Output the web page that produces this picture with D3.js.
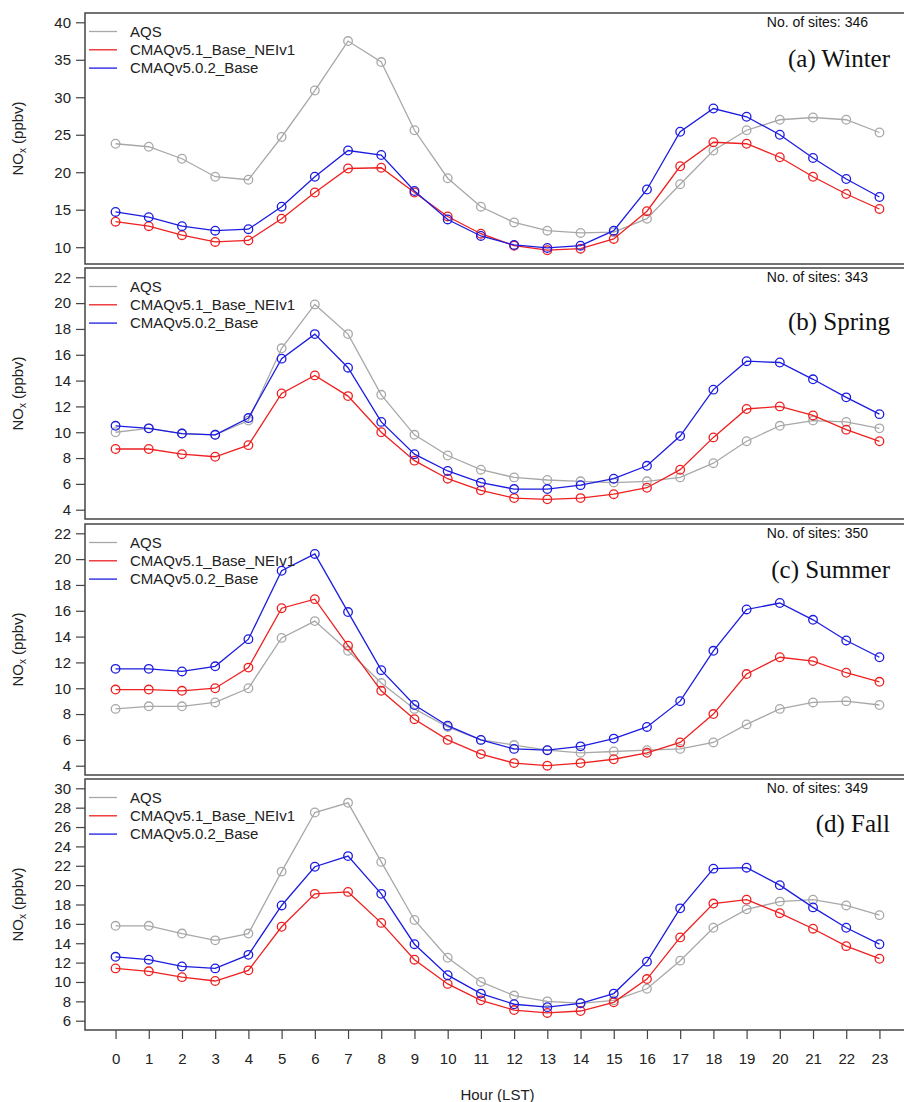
<!DOCTYPE html>
<html>
<head>
<meta charset="utf-8">
<script src="https://cdn.jsdelivr.net/npm/d3@7"></script>
<style>
  body { margin: 0; background: #fff; }
  text { font-family: "Liberation Sans", Arial, sans-serif; }
  text.title { font-family: "Liberation Serif", "Times New Roman", serif; }
</style>
</head>
<body>
<div id="vis-holder"></div>
<script>
// Hours of the day (x categories)
const hours = [0, 1, 2, 3, 4, 5, 6, 7, 8, 9, 10, 11, 12, 13, 14, 15, 16, 17, 18, 19, 20, 21, 22, 23];

// Series names for the legend
const seriesNames = ["AQS", "CMAQv5.1_Base_NEIv1", "CMAQv5.0.2_Base"];

// Winter
const winterAQS  = [23.8, 23.4, 21.8, 19.4, 19.0, 24.7, 30.9, 37.5, 34.7, 25.6, 19.2, 15.4, 13.3, 12.2, 11.9, 12.0, 13.8, 18.4, 22.9, 25.6, 27.0, 27.3, 27.0, 25.3];
const winterV51  = [13.4, 12.8, 11.6, 10.7, 10.9, 13.8, 17.3, 20.5, 20.6, 17.3, 14.1, 11.8, 10.2, 9.6, 9.8, 11.1, 14.8, 20.8, 24.0, 23.8, 22.0, 19.4, 17.1, 15.1];
const winterV502 = [14.7, 14.0, 12.8, 12.2, 12.4, 15.4, 19.4, 22.9, 22.3, 17.5, 13.7, 11.5, 10.3, 9.9, 10.2, 12.2, 17.7, 25.4, 28.5, 27.4, 25.0, 21.9, 19.1, 16.7];

// Spring
const springAQS  = [10.0, 10.3, 9.9, 9.8, 10.9, 16.5, 19.9, 17.6, 12.9, 9.8, 8.2, 7.1, 6.5, 6.3, 6.2, 6.1, 6.2, 6.5, 7.6, 9.3, 10.5, 10.9, 10.8, 10.3];
const springV51  = [8.7, 8.7, 8.3, 8.1, 9.0, 13.0, 14.4, 12.8, 10.0, 7.8, 6.4, 5.5, 4.9, 4.8, 4.9, 5.2, 5.7, 7.1, 9.6, 11.8, 12.0, 11.3, 10.2, 9.3];
const springV502 = [10.5, 10.3, 9.9, 9.8, 11.1, 15.7, 17.6, 15.0, 10.8, 8.3, 7.0, 6.1, 5.6, 5.6, 5.9, 6.4, 7.4, 9.7, 13.3, 15.5, 15.4, 14.1, 12.7, 11.4];

// Summer
const summerAQS  = [8.4, 8.6, 8.6, 8.9, 10.0, 13.9, 15.2, 12.9, 10.4, 8.4, 7.0, 6.0, 5.6, 5.2, 5.0, 5.1, 5.2, 5.3, 5.8, 7.2, 8.4, 8.9, 9.0, 8.7];
const summerV51  = [9.9, 9.9, 9.8, 10.0, 11.6, 16.2, 16.9, 13.3, 9.8, 7.6, 6.0, 4.9, 4.2, 4.0, 4.2, 4.5, 5.0, 5.8, 8.0, 11.1, 12.4, 12.1, 11.2, 10.5];
const summerV502 = [11.5, 11.5, 11.3, 11.7, 13.8, 19.1, 20.4, 15.9, 11.4, 8.7, 7.1, 6.0, 5.3, 5.2, 5.5, 6.1, 7.0, 9.0, 12.9, 16.1, 16.6, 15.3, 13.7, 12.4];

// Fall
const fallAQS  = [15.8, 15.8, 15.0, 14.3, 15.0, 21.4, 27.5, 28.5, 22.4, 16.4, 12.5, 10.0, 8.6, 8.0, 7.8, 8.1, 9.3, 12.2, 15.6, 17.5, 18.3, 18.5, 17.9, 16.9];
const fallV51  = [11.4, 11.1, 10.5, 10.1, 11.2, 15.7, 19.1, 19.3, 16.1, 12.3, 9.8, 8.1, 7.1, 6.8, 7.0, 7.9, 10.3, 14.6, 18.1, 18.5, 17.1, 15.5, 13.7, 12.4];
const fallV502 = [12.6, 12.3, 11.6, 11.4, 12.8, 17.9, 21.9, 23.0, 19.1, 13.9, 10.7, 8.8, 7.7, 7.4, 7.8, 8.8, 12.1, 17.6, 21.7, 21.8, 20.0, 17.7, 15.6, 13.9];

// Panel labels, site counts, y limits and y ticks
const panelTitles = ["(a) Winter", "(b) Spring", "(c) Summer", "(d) Fall"];
const siteCounts = [346, 343, 350, 349];
const yLimits = [[9, 40], [4, 22], [4, 22], [6, 30]];
const yTicks = [
  [10, 15, 20, 25, 30, 35, 40],
  [4, 6, 8, 10, 12, 14, 16, 18, 20, 22],
  [4, 6, 8, 10, 12, 14, 16, 18, 20, 22],
  [6, 8, 10, 12, 14, 16, 18, 20, 22, 24, 26, 28, 30]
];

const seasonSeries = [
  [winterAQS, winterV51, winterV502],
  [springAQS, springV51, springV502],
  [summerAQS, summerV51, summerV502],
  [fallAQS, fallV51, fallV502]
];

// Layout
const width = 904;
const height = 1102;
const plotLeft = 85;
const plotRight = 910;
const panelTops = [13, 268, 524, 779];
const panelHeight = 251;
const titleDy = [54, 62, 54, 53];

const colors = ["#a8a8a8", "#ee2020", "#1c1ce0"];

const svg = d3.select("#vis-holder")
              .append("svg")
              .attr("width", width)
              .attr("height", height);

svg.append("rect").attr("width", width).attr("height", height).attr("fill", "#fff");

// R style axis range: limits stretched by 4% on both sides
function rRange(lim) {
  const pad = (lim[1] - lim[0]) * 0.04;
  return [lim[0] - pad, lim[1] + pad];
}

const x = d3.scaleLinear()
            .domain(rRange([0, 23]))
            .range([plotLeft, plotRight]);

seasonSeries.forEach((series, p) => {
  const top = panelTops[p];
  const bottom = top + panelHeight;

  const y = d3.scaleLinear()
              .domain(rRange(yLimits[p]))
              .range([bottom, top]);

  const g = svg.append("g");

  // Y axis
  g.append("g")
   .attr("transform", `translate(${plotLeft},0)`)
   .call(d3.axisLeft(y).tickValues(yTicks[p]).tickSize(9).tickPadding(5))
   .call((a) => a.select(".domain").remove())
   .call((a) => a.selectAll("line").attr("stroke", "#444").attr("stroke-width", 1.2))
   .call((a) => a.selectAll("text")
                 .attr("font-size", "15px")
                 .attr("fill", "#222"));

  // Y axis label with subscript
  const yl = g.append("text")
              .attr("transform", `translate(23,${(top + bottom) / 2}) rotate(-90)`)
              .attr("text-anchor", "middle")
              .attr("font-size", "15px")
              .attr("fill", "#222");
  yl.append("tspan").text("NO");
  yl.append("tspan").attr("font-size", "10px").attr("dy", 3).text("x");
  yl.append("tspan").attr("dy", -3).text(" (ppbv)");

  // Lines and open circles for each series
  series.forEach((vals, s) => {
    const pts = hours.map((h, i) => [h, vals[i]]);
    g.append("path")
     .datum(pts)
     .attr("fill", "none")
     .attr("stroke", colors[s])
     .attr("stroke-width", 1.3)
     .attr("d", d3.line().x((d) => x(d[0])).y((d) => y(d[1])));

    g.selectAll(null)
     .data(pts)
     .enter()
     .append("circle")
     .attr("cx", (d) => x(d[0]))
     .attr("cy", (d) => y(d[1]))
     .attr("r", 4.3)
     .attr("fill", "none")
     .attr("stroke", colors[s])
     .attr("stroke-width", 1.3);
  });

  // Box around the panel
  g.append("rect")
   .attr("x", plotLeft)
   .attr("y", top)
   .attr("width", plotRight - plotLeft)
   .attr("height", panelHeight)
   .attr("fill", "none")
   .attr("stroke", "#444")
   .attr("stroke-width", 1.5);

  // Legend
  seriesNames.forEach((name, s) => {
    const ly = top + 18.5 + s * 18.3;
    g.append("line")
     .attr("x1", 89).attr("x2", 117)
     .attr("y1", ly).attr("y2", ly)
     .attr("stroke", colors[s])
     .attr("stroke-width", 1.3);
    g.append("text")
     .attr("x", 130)
     .attr("y", ly + 5)
     .attr("font-size", "15px")
     .attr("fill", "#222")
     .text(name);
  });

  // Site count and season title
  g.append("text")
   .attr("x", 868)
   .attr("y", top + 14)
   .attr("text-anchor", "end")
   .attr("font-size", "14px")
   .attr("fill", "#111")
   .text(`No. of sites: ${siteCounts[p]}`);

  g.append("text")
   .attr("class", "title")
   .attr("x", 890)
   .attr("y", top + titleDy[p])
   .attr("text-anchor", "end")
   .attr("font-size", "25px")
   .attr("fill", "#111")
   .text(panelTitles[p]);

  // X axis only on the bottom panel
  if (p === seasonSeries.length - 1) {
    g.append("g")
     .attr("transform", `translate(0,${bottom})`)
     .call(d3.axisBottom(x).tickValues(hours).tickFormat(d3.format("d")).tickSize(9).tickPadding(14))
     .call((a) => a.select(".domain").remove())
     .call((a) => a.selectAll("line").attr("stroke", "#444").attr("stroke-width", 1.2))
     .call((a) => a.selectAll("text")
                   .attr("font-size", "15px")
                   .attr("fill", "#222"));

    g.append("text")
     .attr("x", (plotLeft + plotRight) / 2)
     .attr("y", 1100)
     .attr("text-anchor", "middle")
     .attr("font-size", "15px")
     .attr("fill", "#222")
     .text("Hour (LST)");
  }
});
</script>
</body>
</html>
